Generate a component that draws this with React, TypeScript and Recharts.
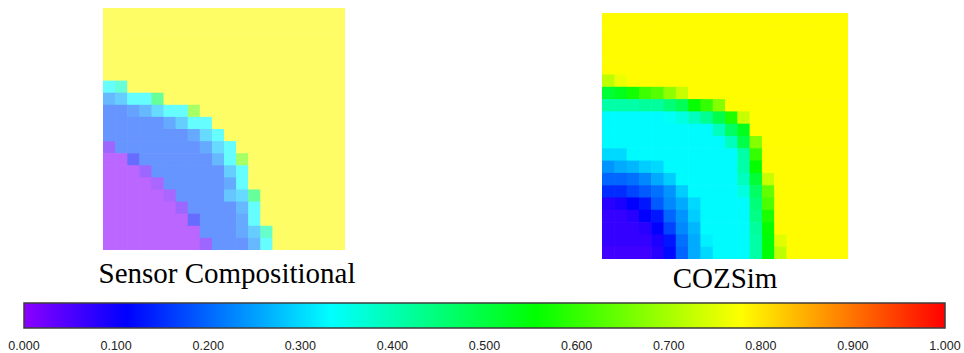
import { ScatterChart, Scatter, XAxis, YAxis, BarChart, Bar } from 'recharts';

const GRID = 20;

// colour scale: value stops and their rgb colours
const scaleStops = [0, 1 / 9, 3 / 9, 5 / 9, 7 / 9, 1];
const scaleColors = [
  [140, 0, 255],
  [0, 0, 255],
  [0, 255, 255],
  [0, 255, 0],
  [255, 255, 0],
  [255, 0, 0],
];
const scaleTicks = [0, 0.1, 0.2, 0.3, 0.4, 0.5, 0.6, 0.7, 0.8, 0.9, 1];

// sensor compositional field, row 0 at the top
const sensorGrid = [
  [0.78, 0.78, 0.78, 0.78, 0.78, 0.78, 0.78, 0.78, 0.78, 0.78, 0.78, 0.78, 0.78, 0.78, 0.78, 0.78, 0.78, 0.78, 0.78, 0.78],
  [0.78, 0.78, 0.78, 0.78, 0.78, 0.78, 0.78, 0.78, 0.78, 0.78, 0.78, 0.78, 0.78, 0.78, 0.78, 0.78, 0.78, 0.78, 0.78, 0.78],
  [0.78, 0.78, 0.78, 0.78, 0.78, 0.78, 0.78, 0.78, 0.78, 0.78, 0.78, 0.78, 0.78, 0.78, 0.78, 0.78, 0.78, 0.78, 0.78, 0.78],
  [0.78, 0.78, 0.78, 0.78, 0.78, 0.78, 0.78, 0.78, 0.78, 0.78, 0.78, 0.78, 0.78, 0.78, 0.78, 0.78, 0.78, 0.78, 0.78, 0.78],
  [0.78, 0.78, 0.78, 0.78, 0.78, 0.78, 0.78, 0.78, 0.78, 0.78, 0.78, 0.78, 0.78, 0.78, 0.78, 0.78, 0.78, 0.78, 0.78, 0.78],
  [0.78, 0.78, 0.78, 0.78, 0.78, 0.78, 0.78, 0.78, 0.78, 0.78, 0.78, 0.78, 0.78, 0.78, 0.78, 0.78, 0.78, 0.78, 0.78, 0.78],
  [0.33, 0.39, 0.78, 0.78, 0.78, 0.78, 0.78, 0.78, 0.78, 0.78, 0.78, 0.78, 0.78, 0.78, 0.78, 0.78, 0.78, 0.78, 0.78, 0.78],
  [0.23, 0.26, 0.33, 0.33, 0.48, 0.78, 0.78, 0.78, 0.78, 0.78, 0.78, 0.78, 0.78, 0.78, 0.78, 0.78, 0.78, 0.78, 0.78, 0.78],
  [0.18, 0.18, 0.2, 0.23, 0.28, 0.33, 0.33, 0.65, 0.78, 0.78, 0.78, 0.78, 0.78, 0.78, 0.78, 0.78, 0.78, 0.78, 0.78, 0.78],
  [0.18, 0.18, 0.18, 0.18, 0.18, 0.21, 0.26, 0.33, 0.33, 0.78, 0.78, 0.78, 0.78, 0.78, 0.78, 0.78, 0.78, 0.78, 0.78, 0.78],
  [0.18, 0.18, 0.18, 0.18, 0.18, 0.18, 0.18, 0.21, 0.28, 0.33, 0.78, 0.78, 0.78, 0.78, 0.78, 0.78, 0.78, 0.78, 0.78, 0.78],
  [0.04, 0.18, 0.18, 0.18, 0.18, 0.18, 0.18, 0.18, 0.21, 0.28, 0.33, 0.78, 0.78, 0.78, 0.78, 0.78, 0.78, 0.78, 0.78, 0.78],
  [0, 0, 0.12, 0.18, 0.18, 0.18, 0.18, 0.18, 0.18, 0.23, 0.33, 0.65, 0.78, 0.78, 0.78, 0.78, 0.78, 0.78, 0.78, 0.78],
  [0, 0, 0, 0.04, 0.18, 0.18, 0.18, 0.18, 0.18, 0.18, 0.26, 0.33, 0.78, 0.78, 0.78, 0.78, 0.78, 0.78, 0.78, 0.78],
  [0, 0, 0, 0, 0.02, 0.18, 0.18, 0.18, 0.18, 0.18, 0.21, 0.33, 0.78, 0.78, 0.78, 0.78, 0.78, 0.78, 0.78, 0.78],
  [0, 0, 0, 0, 0, 0.02, 0.18, 0.18, 0.18, 0.18, 0.25, 0.28, 0.48, 0.78, 0.78, 0.78, 0.78, 0.78, 0.78, 0.78],
  [0, 0, 0, 0, 0, 0, 0.04, 0.18, 0.18, 0.18, 0.18, 0.23, 0.33, 0.78, 0.78, 0.78, 0.78, 0.78, 0.78, 0.78],
  [0, 0, 0, 0, 0, 0, 0, 0.12, 0.18, 0.18, 0.18, 0.21, 0.33, 0.78, 0.78, 0.78, 0.78, 0.78, 0.78, 0.78],
  [0, 0, 0, 0, 0, 0, 0, 0, 0.18, 0.18, 0.18, 0.21, 0.26, 0.41, 0.78, 0.78, 0.78, 0.78, 0.78, 0.78],
  [0, 0, 0, 0, 0, 0, 0, 0, 0.04, 0.18, 0.18, 0.18, 0.23, 0.33, 0.78, 0.78, 0.78, 0.78, 0.78, 0.78],
];

// COZSim field, row 0 at the top
const cozsimGrid = [
  [0.78, 0.78, 0.78, 0.78, 0.78, 0.78, 0.78, 0.78, 0.78, 0.78, 0.78, 0.78, 0.78, 0.78, 0.78, 0.78, 0.78, 0.78, 0.78, 0.78],
  [0.78, 0.78, 0.78, 0.78, 0.78, 0.78, 0.78, 0.78, 0.78, 0.78, 0.78, 0.78, 0.78, 0.78, 0.78, 0.78, 0.78, 0.78, 0.78, 0.78],
  [0.78, 0.78, 0.78, 0.78, 0.78, 0.78, 0.78, 0.78, 0.78, 0.78, 0.78, 0.78, 0.78, 0.78, 0.78, 0.78, 0.78, 0.78, 0.78, 0.78],
  [0.78, 0.78, 0.78, 0.78, 0.78, 0.78, 0.78, 0.78, 0.78, 0.78, 0.78, 0.78, 0.78, 0.78, 0.78, 0.78, 0.78, 0.78, 0.78, 0.78],
  [0.78, 0.78, 0.78, 0.78, 0.78, 0.78, 0.78, 0.78, 0.78, 0.78, 0.78, 0.78, 0.78, 0.78, 0.78, 0.78, 0.78, 0.78, 0.78, 0.78],
  [0.72, 0.76, 0.78, 0.78, 0.78, 0.78, 0.78, 0.78, 0.78, 0.78, 0.78, 0.78, 0.78, 0.78, 0.78, 0.78, 0.78, 0.78, 0.78, 0.78],
  [0.51, 0.53, 0.57, 0.61, 0.63, 0.68, 0.73, 0.78, 0.78, 0.78, 0.78, 0.78, 0.78, 0.78, 0.78, 0.78, 0.78, 0.78, 0.78, 0.78],
  [0.41, 0.41, 0.41, 0.42, 0.42, 0.45, 0.48, 0.56, 0.6, 0.67, 0.78, 0.78, 0.78, 0.78, 0.78, 0.78, 0.78, 0.78, 0.78, 0.78],
  [0.33, 0.33, 0.33, 0.33, 0.33, 0.34, 0.36, 0.39, 0.43, 0.49, 0.58, 0.73, 0.78, 0.78, 0.78, 0.78, 0.78, 0.78, 0.78, 0.78],
  [0.33, 0.33, 0.33, 0.33, 0.33, 0.33, 0.33, 0.33, 0.33, 0.39, 0.47, 0.53, 0.78, 0.78, 0.78, 0.78, 0.78, 0.78, 0.78, 0.78],
  [0.33, 0.33, 0.33, 0.33, 0.33, 0.33, 0.33, 0.33, 0.33, 0.33, 0.39, 0.49, 0.67, 0.78, 0.78, 0.78, 0.78, 0.78, 0.78, 0.78],
  [0.3, 0.3, 0.33, 0.33, 0.33, 0.33, 0.33, 0.33, 0.33, 0.33, 0.33, 0.41, 0.6, 0.78, 0.78, 0.78, 0.78, 0.78, 0.78, 0.78],
  [0.24, 0.26, 0.27, 0.29, 0.3, 0.33, 0.33, 0.33, 0.33, 0.33, 0.33, 0.41, 0.56, 0.78, 0.78, 0.78, 0.78, 0.78, 0.78, 0.78],
  [0.2, 0.2, 0.21, 0.23, 0.26, 0.29, 0.33, 0.33, 0.33, 0.33, 0.33, 0.39, 0.51, 0.73, 0.78, 0.78, 0.78, 0.78, 0.78, 0.78],
  [0.15, 0.15, 0.17, 0.19, 0.21, 0.24, 0.29, 0.33, 0.33, 0.33, 0.33, 0.36, 0.47, 0.64, 0.78, 0.78, 0.78, 0.78, 0.78, 0.78],
  [0.08, 0.09, 0.11, 0.13, 0.19, 0.23, 0.26, 0.3, 0.33, 0.33, 0.33, 0.33, 0.45, 0.62, 0.78, 0.78, 0.78, 0.78, 0.78, 0.78],
  [0.07, 0.07, 0.08, 0.11, 0.13, 0.2, 0.24, 0.29, 0.33, 0.33, 0.33, 0.33, 0.44, 0.58, 0.78, 0.78, 0.78, 0.78, 0.78, 0.78],
  [0.07, 0.07, 0.07, 0.08, 0.11, 0.17, 0.23, 0.27, 0.33, 0.33, 0.33, 0.33, 0.42, 0.56, 0.78, 0.78, 0.78, 0.78, 0.78, 0.78],
  [0.07, 0.07, 0.07, 0.07, 0.09, 0.13, 0.21, 0.26, 0.32, 0.33, 0.33, 0.33, 0.41, 0.55, 0.75, 0.78, 0.78, 0.78, 0.78, 0.78],
  [0.06, 0.06, 0.06, 0.06, 0.08, 0.12, 0.2, 0.26, 0.3, 0.33, 0.33, 0.33, 0.41, 0.55, 0.72, 0.78, 0.78, 0.78, 0.78, 0.78],
];

// linear interpolation along the colour scale, optionally washed toward white
function colorAt(v: number, wash = 0) {
  const t = Math.max(0, Math.min(1, v));
  let i = 0;
  while (i < scaleStops.length - 2 && t > scaleStops[i + 1]) i++;
  const f = (t - scaleStops[i]) / (scaleStops[i + 1] - scaleStops[i]);
  const rgb = scaleColors[i].map((c, k) => {
    const base = c + (scaleColors[i + 1][k] - c) * f;
    return Math.round(base * (1 - wash) + 255 * wash);
  });
  return `rgb(${rgb.join(',')})`;
}

const serif = '"Liberation Serif", "Times New Roman", serif';

function Heatmap({ grid, size, wash }: { grid: number[][]; size: number; wash: number }) {
  const cell = size / GRID;
  const data = grid.flatMap((row, r) => row.map((v, c) => ({ col: c + 0.5, row: r + 0.5, v })));
  return (
    <ScatterChart width={size} height={size} margin={{ top: 0, right: 0, bottom: 0, left: 0 }}>
      <XAxis type="number" dataKey="col" domain={[0, GRID]} hide />
      <YAxis type="number" dataKey="row" domain={[0, GRID]} reversed hide />
      <Scatter
        data={data}
        isAnimationActive={false}
        shape={(p: any) => (
          <rect
            x={p.cx - cell / 2}
            y={p.cy - cell / 2}
            width={cell + 0.6}
            height={cell + 0.6}
            fill={colorAt(p.payload.v, wash)}
          />
        )}
      />
    </ScatterChart>
  );
}

function ColorBar() {
  return (
    <BarChart
      width={964}
      height={56}
      layout="vertical"
      data={[{ name: 'scale', value: 1 }]}
      margin={{ top: 3, right: 19, bottom: 0, left: 24 }}
      barCategoryGap={0}
    >
      <defs>
        <linearGradient id="rainbow" x1="0" y1="0" x2="1" y2="0">
          {scaleStops.map((s, i) => (
            <stop key={i} offset={s} stopColor={colorAt(s)} />
          ))}
        </linearGradient>
      </defs>
      <XAxis
        type="number"
        domain={[0, 1]}
        ticks={scaleTicks}
        interval={0}
        tickFormatter={(v: number) => v.toFixed(3)}
        axisLine={false}
        tickLine={false}
        tickMargin={7}
        height={28}
        tick={{ fontSize: 12.5, fill: '#222', fontFamily: '"Liberation Sans", Arial, sans-serif' }}
      />
      <YAxis type="category" dataKey="name" hide />
      <Bar dataKey="value" fill="url(#rainbow)" stroke="#3c3c3c" strokeWidth={1.5} isAnimationActive={false} />
    </BarChart>
  );
}

export default function App() {
  return (
    <div style={{ position: 'absolute', left: 0, top: 0, width: 964, height: 353, background: '#fff' }}>
      <div style={{ position: 'absolute', left: 103, top: 8 }}>
        <Heatmap grid={sensorGrid} size={242} wash={0.4} />
      </div>
      <div style={{ position: 'absolute', left: 602, top: 13 }}>
        <Heatmap grid={cozsimGrid} size={246} wash={0} />
      </div>
      <div
        style={{
          position: 'absolute', left: 77, top: 259, width: 300, textAlign: 'center',
          fontFamily: serif, fontSize: 29, lineHeight: '29px', color: '#000',
        }}
      >
        Sensor Compositional
      </div>
      <div
        style={{
          position: 'absolute', left: 575, top: 264, width: 300, textAlign: 'center',
          fontFamily: serif, fontSize: 29, lineHeight: '29px', color: '#000',
        }}
      >
        COZSim
      </div>
      <div style={{ position: 'absolute', left: 0, top: 300 }}>
        <ColorBar />
      </div>
    </div>
  );
}
